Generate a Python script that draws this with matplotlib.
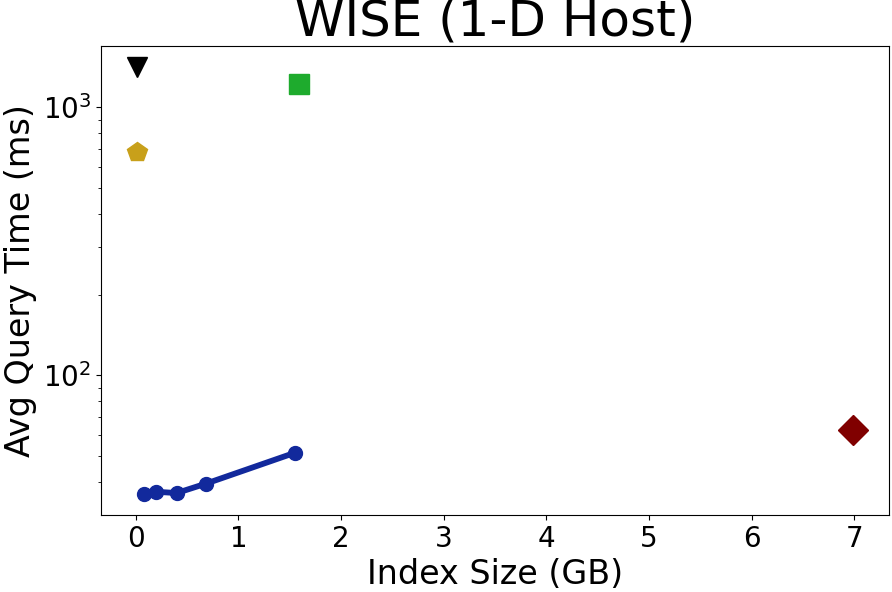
import matplotlib
matplotlib.use("Agg")
import matplotlib.pyplot as plt

# Data
wise_sizes = [0.078, 0.198, 0.398, 0.687, 1.554]
wise_times = [36.2, 36.8, 36.4, 39.5, 51.5]

tri_size = [0.01]
tri_time = [1410]

pent_size = [0.01]
pent_time = [680]

square_size = [1.59]
square_time = [1219]

diamond_size = [6.99]
diamond_time = [62.8]

fig = plt.figure(figsize=(8.92, 5.92), dpi=100)
ax = fig.add_axes([101/892, 77/592, 788/892, 469/592])

ax.plot(wise_sizes, wise_times, color='#12299c', lw=4.2, marker='o', ms=10)
ax.plot(tri_size, tri_time, linestyle='none', marker='v', ms=15, color='black')
ax.plot(pent_size, pent_time, linestyle='none', marker='p', ms=15, color='#c8a01a')
ax.plot(square_size, square_time, linestyle='none', marker='s', ms=15, color='#1eab2d')
ax.plot(diamond_size, diamond_time, linestyle='none', marker='D', ms=15, color='#800000')

ax.set_yscale('log')
ax.set_xticks([0, 1, 2, 3, 4, 5, 6, 7])
ax.tick_params(labelsize=20)
ax.set_xlabel('Index Size (GB)', fontsize=24)
ax.set_ylabel('Avg Query Time (ms)', fontsize=24)
ax.set_title('WISE (1-D Host)', fontsize=36, pad=1)

fig.savefig('out.png', dpi=100)
